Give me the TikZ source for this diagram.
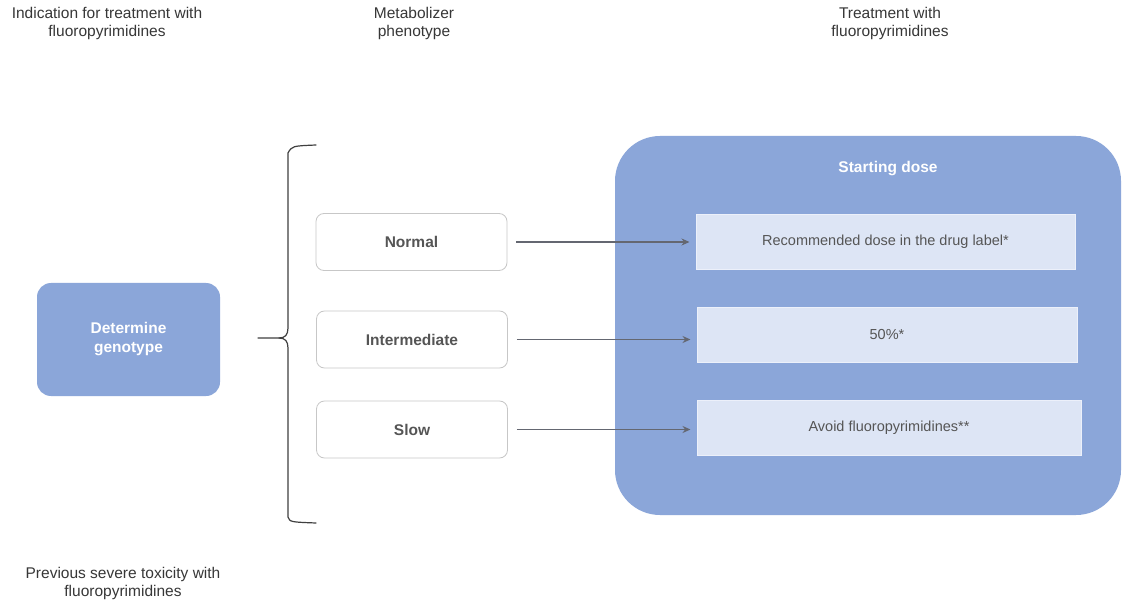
\documentclass[tikz,border=0pt]{standalone}
\usepackage{fontspec}
\setmainfont{Liberation Sans}
\usetikzlibrary{arrows.meta}
\definecolor{boxblue}{RGB}{139,166,217}
\definecolor{lightblue}{RGB}{221,229,245}
\definecolor{lightborder}{RGB}{236,240,250}
\definecolor{arrowgray}{RGB}{100,103,113}
\definecolor{txtgray}{RGB}{55,55,55}
\definecolor{boxtxt}{RGB}{85,85,85}
\tikzset{
  heading/.style={align=center,text=txtgray,font=\fontsize{15.5}{18}\selectfont,inner sep=0pt},
  bluebox/.style={fill=boxblue,draw=none,rounded corners=14pt,text=white,font=\bfseries\fontsize{15.5}{19}\selectfont,align=center},
  phenobox/.style={fill=white,draw=black!22,line width=0.8pt,rounded corners=8pt,text=boxtxt,font=\bfseries\fontsize{15.5}{18}\selectfont,minimum width=191pt,minimum height=57pt,inner sep=0pt},
  dosebox/.style={fill=lightblue,draw=lightborder,line width=1pt,text=boxtxt,font=\fontsize{14.5}{18}\selectfont,inner sep=0pt,minimum height=55pt},
  conn/.style={draw=arrowgray,line width=1.6pt,-{Stealth[length=8pt,width=7pt]},shorten <=9pt,shorten >=6pt},
  bracestyle/.style={draw=black!75,line width=1.2pt,line cap=round}
}
\begin{document}
\begin{tikzpicture}[x=1pt,y=-1pt]
\useasboundingbox[fill=white] (0,0) rectangle (1123,601);
% headings
\node[heading] (h1) at (107,23) {Indication for treatment with\\fluoropyrimidines};
\node[heading] (h2) at (414,23) {Metabolizer\\phenotype};
\node[heading] (h3) at (890,23) {Treatment with\\fluoropyrimidines};
\node[heading] (h4) at (123,583) {Previous severe toxicity with\\fluoropyrimidines};
% determine genotype
\node[bluebox,minimum width=183pt,minimum height=113pt,inner sep=0pt] (geno) at (128.5,339.5) {Determine\\genotype};
% brace
\draw[bracestyle] (316,145) .. controls (292,146) .. (288,153) -- (288,328)
  .. controls (288,335) and (285,338) .. (279,338) -- (258,338);
\draw[bracestyle] (279,338) .. controls (285,338) and (288,341) .. (288,348) -- (288,517)
  .. controls (290,522) .. (316,523);
% big container
\node[fill=boxblue,rounded corners=45pt,minimum width=506pt,minimum height=379pt,inner sep=0pt] (big) at (868,325.5) {};
\node[text=white,font=\bfseries\fontsize{15.5}{18}\selectfont] (start) at (888,169) {Starting dose};
% phenotype boxes
\node[phenobox] (normal) at (411.5,242) {Normal};
\node[phenobox] (inter) at (412,339.5) {Intermediate};
\node[phenobox] (slow) at (412,429.5) {Slow};
% dose boxes
\node[dosebox,minimum width=379pt] (rec) at (885.5,242) {Recommended dose in the drug label*};
\node[dosebox,minimum width=380pt] (half) at (887,334.5) {50\%*};
\node[dosebox,minimum width=384pt] (avoid) at (889,427.5) {Avoid fluoropyrimidines**};
% arrows
\draw[conn] (normal.east) -- (normal.east -| rec.west);
\draw[conn] (inter.east) -- (inter.east -| half.west);
\draw[conn] (slow.east) -- (slow.east -| avoid.west);
\end{tikzpicture}
\end{document}
